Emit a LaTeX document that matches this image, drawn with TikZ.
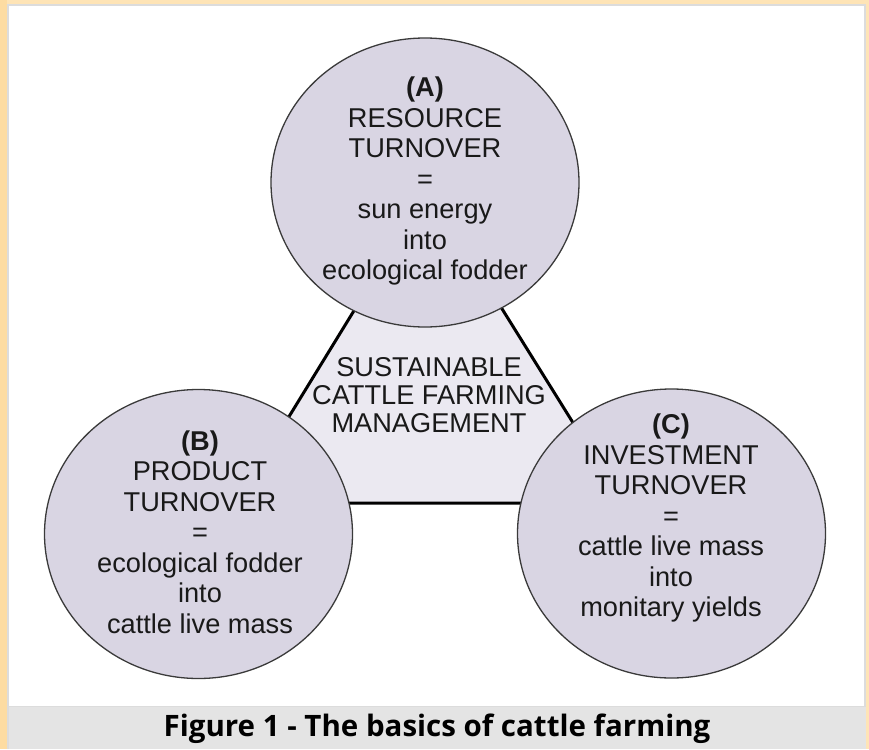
\documentclass[tikz,border=0pt]{standalone}
\usepackage{fontspec}
\setmainfont{Liberation Sans}
\newfontfamily\captionfont{Open Sans}
\usetikzlibrary{shapes.geometric}

\definecolor{pageorange}{HTML}{FEE4B6}
\definecolor{edgeorange}{HTML}{FDDCA2}
\definecolor{framegray}{HTML}{DCDCDC}
\definecolor{bandgray}{HTML}{E4E4E4}
\definecolor{blobfill}{HTML}{D9D5E3}
\definecolor{trifill}{HTML}{EBE9F1}
\definecolor{blobline}{HTML}{3A3A3A}

\tikzset{
  blob/.style={ellipse, draw=blobline, line width=1.3pt, fill=blobfill,
    minimum width=308pt, minimum height=289pt, inner sep=0pt},
  blobtext/.style={align=center, text=black!90, inner sep=0pt,
    font=\fontsize{27.2}{30.5}\selectfont},
  hubtext/.style={align=center, text=black!90, inner sep=0pt,
    font=\fontsize{27.2}{28}\selectfont},
  triline/.style={draw=black, line width=3pt, fill=trifill, line join=miter},
  captiontext/.style={inner sep=0pt, font=\captionfont\bfseries\fontsize{29.5}{32}\selectfont}
}

\begin{document}
\begin{tikzpicture}[x=1pt, y=-1pt]
  \useasboundingbox (0,0) rectangle (869,749);

  % page background, framed white panel and caption band
  \fill[pageorange] (0,0) rectangle (869,749);
  \fill[edgeorange] (0,0) rectangle (7,749);
  \fill[framegray] (7,4) rectangle (866,749);
  \fill[white] (9,6) rectangle (864,706);
  \fill[bandgray] (9,707) rectangle (866,749);

  % central triangle
  \coordinate (apex) at (428,190);
  \coordinate (left) at (236,503);
  \coordinate (right) at (623,503);
  \draw[triline] (apex) -- (left) -- (right) -- cycle;

  % the three turnover ellipses
  \node[blob] (A) at (425,182.5) {};
  \node[blob] (B) at (198.5,534) {};
  \node[blob] (C) at (671.5,533.5) {};

  \node[blobtext] (Atext) at (425,181)
    {\textbf{(A)}\\RESOURCE\\TURNOVER\\=\\sun energy\\into\\ecological fodder};
  \node[blobtext] (Btext) at (200,532)
    {\textbf{(B)}\\PRODUCT\\TURNOVER\\=\\ecological fodder\\into\\cattle live mass};
  \node[blobtext] (Ctext) at (671,518)
    {\textbf{(C)}\\INVESTMENT\\TURNOVER\\=\\cattle live mass\\into\\monitary yields};

  \node[hubtext] (hub) at (429,395)
    {SUSTAINABLE\\CATTLE FARMING\\MANAGEMENT};

  \node[captiontext] (caption) at (437,729) {Figure 1 - The basics of cattle farming};
\end{tikzpicture}
\end{document}
